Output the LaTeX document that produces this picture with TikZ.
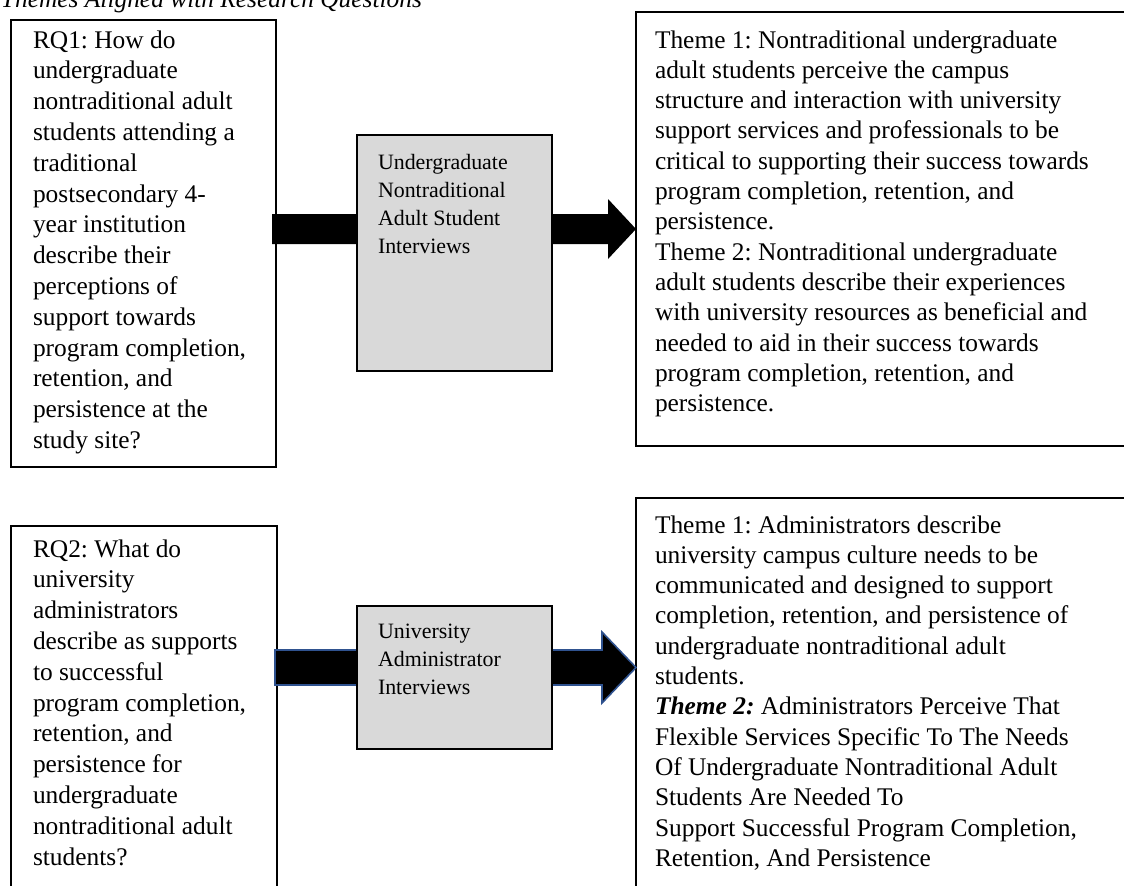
\documentclass[tikz,border=0pt]{standalone}
\usepackage{fontspec}
\setmainfont{Liberation Serif}
\frenchspacing
\newcommand{\mainsz}{\fontsize{12.7pt}{15.15pt}\selectfont\frenchspacing}
\newcommand{\rqsz}{\fontsize{12.7pt}{15.4pt}\selectfont\frenchspacing}
\newcommand{\graysz}{\fontsize{10.95pt}{14pt}\selectfont\frenchspacing}
\definecolor{boxgray}{RGB}{217,217,217}
\definecolor{arrowblue}{RGB}{47,82,143}
\tikzset{
  frame/.style={draw=black, line width=1pt, inner sep=0pt, outer sep=0pt, anchor=north west},
  grayframe/.style={frame, fill=boxgray},
  txt/.style={anchor=base west, inner sep=0pt, outer sep=0pt},
  blockarrow/.style={fill=black},
  bluearrow/.style={fill=black, draw=arrowblue, line width=0.8pt, line join=miter},
}
\begin{document}
\begin{tikzpicture}[x=0.5pt,y=-0.5pt]
\useasboundingbox (0,0) rectangle (1124,885);
\clip (0,0) rectangle (1124,885);

% title (cut off at top)
\node[txt] (title) at (1,7) {\mainsz\itshape Themes Aligned with Research Questions};

% outer boxes
\node[frame, minimum width=132.5pt, minimum height=223.5pt] (rq1) at (11,20) {};
\node[frame, minimum width=133pt, minimum height=187pt] (rq2) at (11,526) {};

% connectors (block arrows)
\coordinate (a1s) at (rq1.east |- 0,229);
\coordinate (a2s) at (rq2.east |- 0,667.5);
\node[frame, minimum width=252pt, minimum height=217pt] (th1) at (636,12) {};
\node[frame, minimum width=252pt, minimum height=201pt] (th2) at (636,498) {};
\coordinate (a1e) at (th1.west |- 0,229);
\coordinate (a2e) at (th2.west |- 0,667.5);

\path[blockarrow] ([xshift=-2pt]a1s) -- ++(0,-15) -- ++(336,0) -- ++(0,-15)
   -- (a1e) -- ++(-28,30) -- ++(0,-15) -- ++(-336,0) -- cycle;
\path[bluearrow] ([xshift=-1pt]a2s) -- ++(0,-17.5) -- ++(327,0) -- ++(0,-18)
   -- (a2e) -- ++(-34,35.5) -- ++(0,-18) -- ++(-327,0) -- cycle;

% middle gray boxes
\node[grayframe, minimum width=97.5pt, minimum height=118pt] (g1) at (357,135) {};
\node[grayframe, minimum width=97.5pt, minimum height=71.5pt] (g2) at (357,606) {};

% texts
\node[txt] (rq1t) at (33,48) {\parbox[t]{200pt}{\rqsz\raggedright
RQ1: How do\\
undergraduate\\
nontraditional adult\\
students attending a\\
traditional\\
postsecondary 4-\\
year institution\\
describe their\\
perceptions of\\
support towards\\
program completion,\\
retention, and\\
persistence at the\\
study site?}};

\node[txt] (g1t) at (378,169) {\parbox[t]{150pt}{\graysz\raggedright
Undergraduate\\
Nontraditional\\
Adult Student\\
Interviews}};

\node[txt] (th1t) at (655,48) {\parbox[t]{300pt}{\mainsz\raggedright
Theme 1: Nontraditional undergraduate\\
adult students perceive the campus\\
structure and interaction with university\\
support services and professionals to be\\
critical to supporting their success towards\\
program completion, retention, and\\
persistence.\\
Theme 2: Nontraditional undergraduate\\
adult students describe their experiences\\
with university resources as beneficial and\\
needed to aid in their success towards\\
program completion, retention, and\\
persistence.}};

\node[txt] (rq2t) at (33,557) {\parbox[t]{200pt}{\rqsz\raggedright
RQ2: What do\\
university\\
administrators\\
describe as supports\\
to successful\\
program completion,\\
retention, and\\
persistence for\\
undergraduate\\
nontraditional adult\\
students?}};

\node[txt] (g2t) at (378,638) {\parbox[t]{150pt}{\graysz\raggedright
University\\
Administrator\\
Interviews}};

\node[txt] (th2t) at (655,533) {\parbox[t]{300pt}{\mainsz\raggedright
Theme 1: Administrators describe\\
university campus culture needs to be\\
communicated and designed to support\\
completion, retention, and persistence of\\
undergraduate nontraditional adult\\
students.\\
\textbf{\textit{Theme 2:}} Administrators Perceive That\\
Flexible Services Specific To The Needs\\
Of Undergraduate Nontraditional Adult\\
Students Are Needed To\\
Support Successful Program Completion,\\
Retention, And Persistence}};
\end{tikzpicture}
\end{document}
